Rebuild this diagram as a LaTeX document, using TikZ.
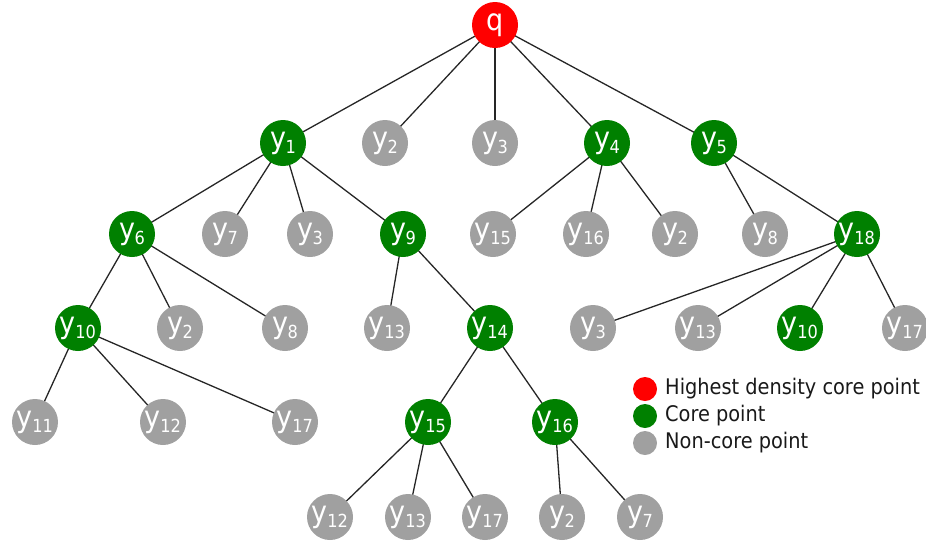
\documentclass[tikz,border=0pt]{standalone}
\usepackage{fontspec}
\setmainfont{DejaVu Sans}[FakeStretch=0.9]
\usetikzlibrary{backgrounds}

\definecolor{hotpt}{RGB}{255,0,0}
\definecolor{corept}{RGB}{0,128,0}
\definecolor{noncorept}{RGB}{160,160,160}

% point label: y with a lowered index
\newcommand{\yl}[1]{{\fontsize{30}{30}\selectfont y}\kern-0.5pt\raisebox{-5pt}{\fontsize{18}{18}\selectfont #1}}

\begin{document}
\begin{tikzpicture}[x=1pt,y=-1pt,
  ptbase/.style={circle, minimum size=46pt, inner sep=0pt, text=white},
  hi/.style={ptbase, fill=hotpt},
  cr/.style={ptbase, fill=corept},
  nc/.style={ptbase, fill=noncorept},
  link/.style={draw=black!85, line width=1.3pt},
  keydot/.style={circle, minimum size=24pt, inner sep=0pt},
  keytext/.style={anchor=west, inner sep=0pt, font=\fontsize{21.5}{21.5}\selectfont, text=black!90}]
\useasboundingbox (0,0) rectangle (926,542);

% root
\node[hi] (q) at (495,25) {\fontsize{30}{30}\selectfont q};

% level 1
\node[cr] (a1) at (283,143) {\yl{1}};
\node[nc] (a2) at (385,143) {\yl{2}};
\node[nc] (a3) at (495,143) {\yl{3}};
\node[cr] (a4) at (607,143) {\yl{4}};
\node[cr] (a5) at (714,143) {\yl{5}};

% level 2
\node[cr] (b6)  at (132,234) {\yl{6}};
\node[nc] (b7)  at (225,234) {\yl{7}};
\node[nc] (b3)  at (310,234) {\yl{3}};
\node[cr] (b9)  at (403,234) {\yl{9}};
\node[nc] (b15) at (493,234) {\yl{15}};
\node[nc] (b16) at (586,234) {\yl{16}};
\node[nc] (b2)  at (675,234) {\yl{2}};
\node[nc] (b8)  at (765,234) {\yl{8}};
\node[cr] (b18) at (857,234) {\yl{18}};

% level 3
\node[cr] (c10) at (78,328)  {\yl{10}};
\node[nc] (c2)  at (180,328) {\yl{2}};
\node[nc] (c8)  at (285,328) {\yl{8}};
\node[nc] (c13) at (387,328) {\yl{13}};
\node[cr] (c14) at (490,328) {\yl{14}};
\node[nc] (c3)  at (593,328) {\yl{3}};
\node[nc] (d13) at (698,328) {\yl{13}};
\node[cr] (d10) at (800,328) {\yl{10}};
\node[nc] (d17) at (905,328) {\yl{17}};

% level 4
\node[nc] (e11) at (35,422)  {\yl{11}};
\node[nc] (e12) at (163,422) {\yl{12}};
\node[nc] (e17) at (295,422) {\yl{17}};
\node[cr] (e15) at (428,422) {\yl{15}};
\node[cr] (e16) at (555,422) {\yl{16}};

% level 5
\node[nc] (f12) at (330,517) {\yl{12}};
\node[nc] (f13) at (408,517) {\yl{13}};
\node[nc] (f17) at (485,517) {\yl{17}};
\node[nc] (f2)  at (562,517) {\yl{2}};
\node[nc] (f7)  at (640,517) {\yl{7}};

% tree edges, behind the points
\begin{scope}[on background layer]
  \foreach \c in {a1,a2,a3,a4,a5} \draw[link] (q.center) -- (\c.center);
  \foreach \c in {b6,b7,b3,b9} \draw[link] (a1.center) -- (\c.center);
  \foreach \c in {b15,b16,b2} \draw[link] (a4.center) -- (\c.center);
  \foreach \c in {b8,b18} \draw[link] (a5.center) -- (\c.center);
  \foreach \c in {c10,c2,c8} \draw[link] (b6.center) -- (\c.center);
  \foreach \c in {c13,c14} \draw[link] (b9.center) -- (\c.center);
  \foreach \c in {c3,d13,d10,d17} \draw[link] (b18.center) -- (\c.center);
  \foreach \c in {e11,e12,e17} \draw[link] (c10.center) -- (\c.center);
  \foreach \c in {e15,e16} \draw[link] (c14.center) -- (\c.center);
  \foreach \c in {f12,f13,f17} \draw[link] (e15.center) -- (\c.center);
  \foreach \c in {f2,f7} \draw[link] (e16.center) -- (\c.center);
\end{scope}

% legend
\node[keydot, fill=hotpt]     (k1) at (645,389) {};
\node[keydot, fill=corept]    (k2) at (645,416) {};
\node[keydot, fill=noncorept] (k3) at (645,443) {};
\node[keytext] (t1) at (665,389) {Highest density core point};
\node[keytext] (t2) at (665,416) {Core point};
\node[keytext] (t3) at (665,443) {Non-core point};
\end{tikzpicture}
\end{document}
